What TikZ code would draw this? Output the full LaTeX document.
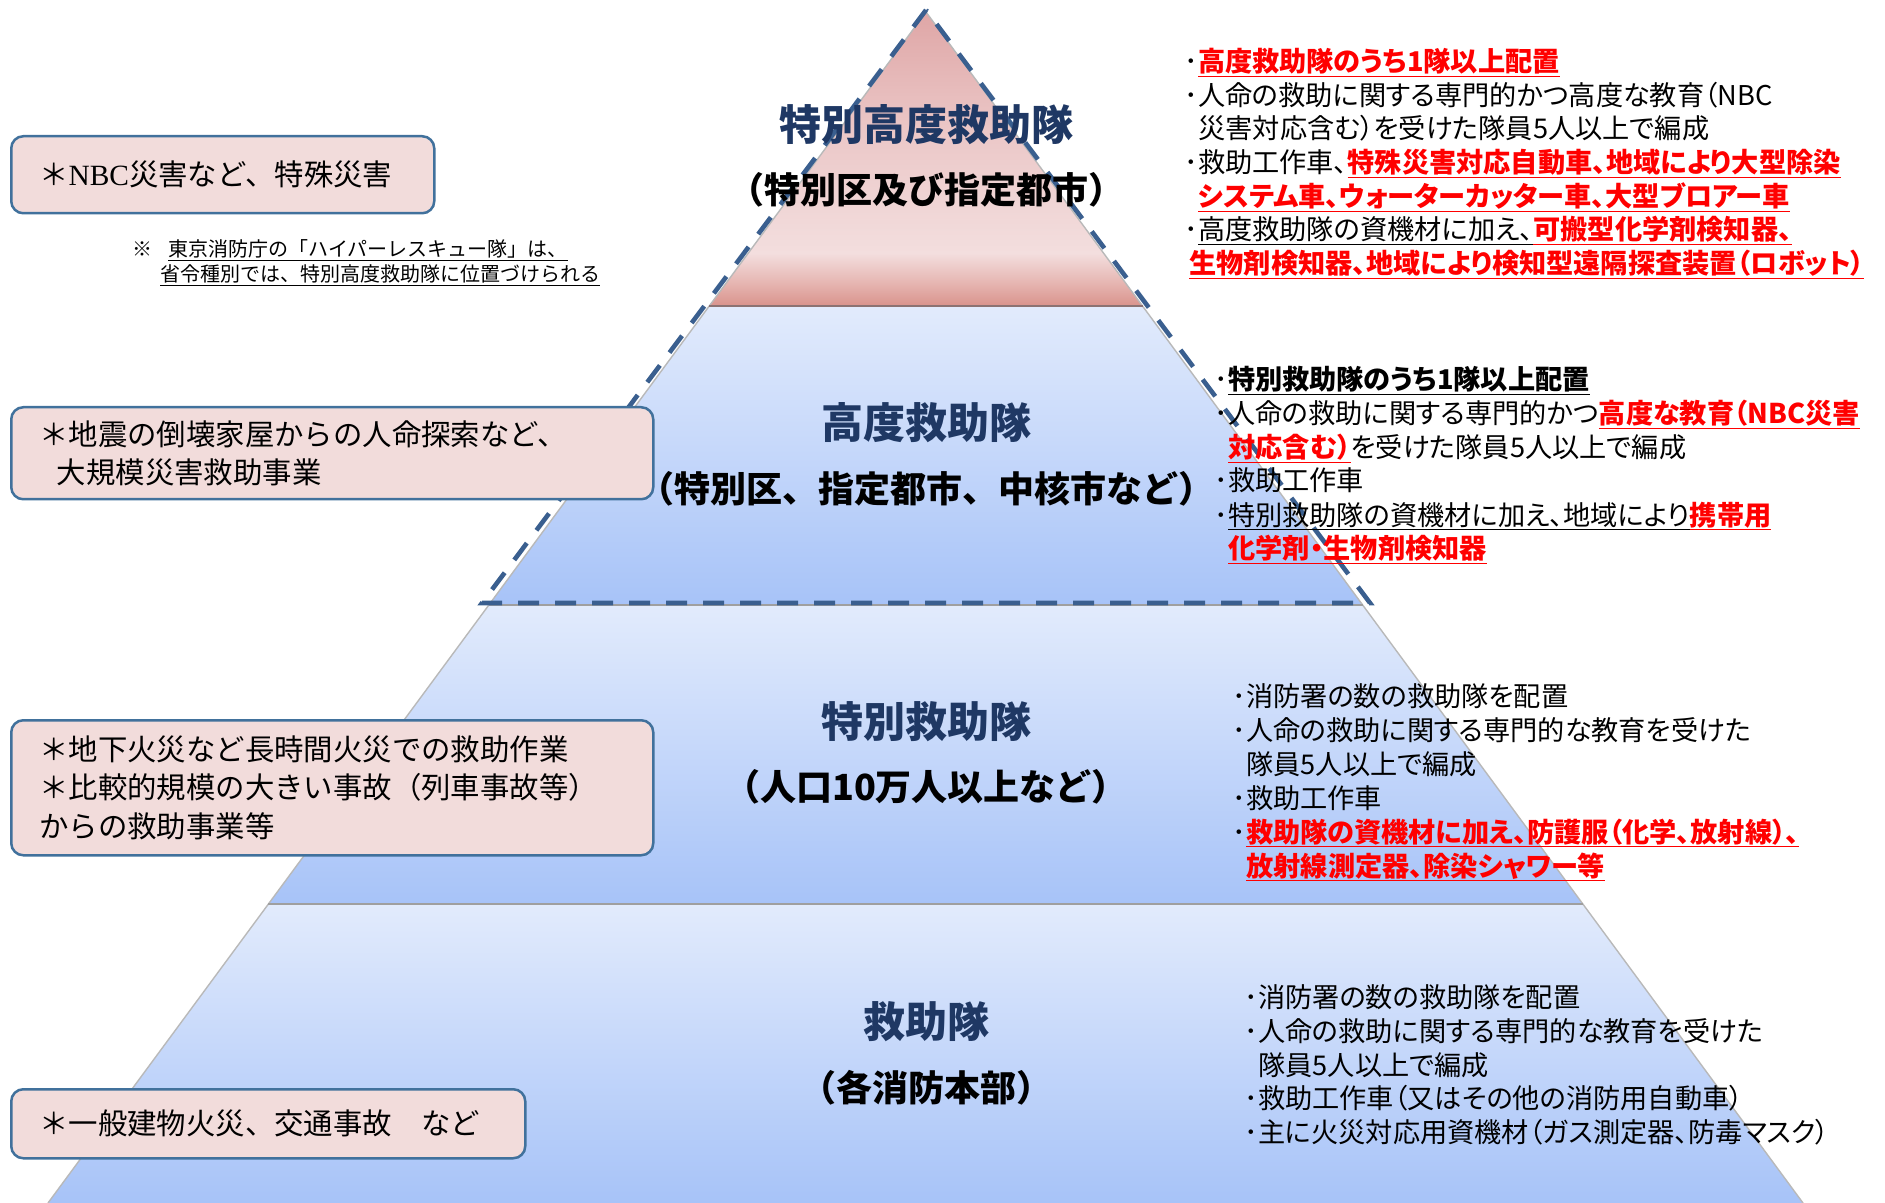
\documentclass[tikz,border=0pt]{standalone}
\usepackage{fontspec}
\setmainfont{Noto Sans CJK JP}
\newfontfamily\propfont{Noto Sans CJK JP}[RawFeature=+palt]
\newfontfamily\latinserif{Liberation Serif}
\usetikzlibrary{calc}

\definecolor{boxfill}{HTML}{F2DCDB}
\definecolor{boxline}{HTML}{41719C}
\definecolor{navy}{HTML}{1F3864}
\definecolor{dashblue}{HTML}{3A5F8F}
\definecolor{pinktop}{HTML}{DFA6A6}
\definecolor{pinkup}{HTML}{EBC7C7}
\definecolor{pinkmid}{HTML}{F3DEDE}
\definecolor{pinklow}{HTML}{E6B6B2}
\definecolor{pinkbot}{HTML}{D9938C}
\definecolor{bluetop}{HTML}{E2EBFC}
\definecolor{bluebot}{HTML}{A7C3F8}
\definecolor{hired}{HTML}{FF0000}

\pgfdeclareverticalshading{pinkfade}{100bp}{color(0bp)=(pinkbot); color(25bp)=(pinkbot);
  color(29bp)=(pinklow); color(34bp)=(pinkmid); color(55bp)=(pinkup);
  color(75bp)=(pinktop); color(100bp)=(pinktop)}

\newcommand\uln[1]{\sbox0{#1}\rlap{\rule[-0.2em]{\wd0}{0.07em}}\usebox0}
\newcommand\hl[1]{\textcolor{hired}{\bfseries\uln{#1}}}
\newcommand\ind{\hspace*{7pt}}

\tikzset{
  tier/.style={font=\fontsize{21pt}{24pt}\selectfont\bfseries, text=navy, inner sep=0pt},
  area/.style={font=\fontsize{18pt}{22pt}\selectfont\bfseries, inner sep=0pt},
  casebox/.style={draw=boxline, fill=boxfill, line width=1.25pt, rounded corners=6pt,
    anchor=north west, align=left, inner xsep=14pt, inner ysep=0pt,
    font=\fontsize{14.7pt}{19.3pt}\selectfont},
  desc/.style={anchor=base west, inner sep=0pt, font=\propfont\fontsize{13.6pt}{16pt}\selectfont},
  remark/.style={anchor=base west, inner sep=0pt, font=\fontsize{10pt}{12pt}\selectfont},
  sepline/.style={draw=gray!75, line width=0.8pt},
  dashframe/.style={draw=dashblue, line width=2.3pt, dash pattern=on 10.5pt off 8pt}
}

\begin{document}
\begin{tikzpicture}[x=0.5pt, y=-0.5pt]
\useasboundingbox (0,0) rectangle (1885,1203);

% pyramid
\coordinate (apex) at (926,12);
\coordinate (bl) at (48,1203);
\coordinate (br) at (1803,1203);
\coordinate (la) at ($(apex)!0.2469!(bl)$);
\coordinate (ra) at ($(apex)!0.2469!(br)$);
\coordinate (lb) at ($(apex)!0.4979!(bl)$);
\coordinate (rb) at ($(apex)!0.4979!(br)$);
\coordinate (lc) at ($(apex)!0.749!(bl)$);
\coordinate (rc) at ($(apex)!0.749!(br)$);

\shade[shading=pinkfade] (apex) -- (ra) -- (la) -- cycle;
\shade[top color=bluetop, bottom color=bluebot] (la) -- (ra) -- (rb) -- (lb) -- cycle;
\shade[top color=bluetop, bottom color=bluebot] (lb) -- (rb) -- (rc) -- (lc) -- cycle;
\shade[top color=bluetop, bottom color=bluebot] (lc) -- (rc) -- (br) -- (bl) -- cycle;
\draw[gray!55, line width=0.7pt] (bl) -- (apex) -- (br);
\draw[sepline, draw=gray!90!red] (la) -- (ra);
\draw[sepline] (lb) -- (rb);
\draw[sepline] (lc) -- (rc);

% dashed frame
\coordinate (dtop) at (926,10);
\coordinate (dleft) at (482,603);
\coordinate (dright) at (1370,603);
\draw[dashframe] (dtop) -- (dleft) -- (dright) -- cycle;

% tier titles
\node[tier] (t1) at (926,125) {特別高度救助隊};
\node[area] (s1) at (926,190) {（特別区及び指定都市）};
\node[tier] (t2) at (926,423) {高度救助隊};
\node[area] (s2) at (926,489) {（特別区、指定都市、中核市など）};
\node[tier] (t3) at (926,722) {特別救助隊};
\node[area] (s3) at (926,787) {（人口10万人以上など）};
\node[tier] (t4) at (926,1022) {救助隊};
\node[area] (s4) at (926,1088) {（各消防本部）};

% case boxes
\node[casebox, text width=183.5pt, minimum height=38.5pt] (nbc) at (10,135)
  {＊{\latinserif NBC}災害など、特殊災害};
\node[casebox, text width=293pt, minimum height=46pt] (quake) at (10,406)
  {＊地震の倒壊家屋からの人命探索など、\\\hspace*{0.6em}大規模災害救助事業};
\node[casebox, text width=293pt, minimum height=67.5pt] (fire) at (10,719)
  {＊地下火災など長時間火災での救助作業\\＊比較的規模の大きい事故（列車事故等）\\からの救助事業等};
\node[casebox, text width=229pt, minimum height=34.5pt] (common) at (10,1088)
  {＊一般建物火災、交通事故\hspace{1em}など};

% remark
\node[remark] (rm1) at (132,257) {※\hspace{0.8em}\uln{東京消防庁の「ハイパーレスキュー隊」は、}};
\node[remark] (rm2) at (160,282) {\uln{省令種別では、特別高度救助隊に位置づけられる}};

% descriptions
\node[desc] (g1a) at (1184,72) {･\hl{高度救助隊のうち1隊以上配置}};
\node[desc] (g1b) at (1184,106) {･人命の救助に関する専門的かつ高度な教育（NBC};
\node[desc] (g1c) at (1184,139) {\ind 災害対応含む）を受けた隊員5人以上で編成};
\node[desc] (g1d) at (1184,173) {･救助工作車、\hl{特殊災害対応自動車、地域により大型除染}};
\node[desc] (g1e) at (1184,207) {\ind\hl{システム車、ウォーターカッター車、大型ブロアー車}};
\node[desc] (g1f) at (1184,240) {･\uln{高度救助隊の資機材に加え、}\hl{可搬型化学剤検知器、}};
\node[desc] (g1g) at (1184,274) {\hspace*{2.5pt}\hl{生物剤検知器、地域により検知型遠隔探査装置（ロボット）}};

\node[desc] (g2a) at (1214,390) {･{\bfseries\uln{特別救助隊のうち1隊以上配置}}};
\node[desc] (g2b) at (1214,424) {･人命の救助に関する専門的かつ\hl{高度な教育（NBC災害}};
\node[desc] (g2c) at (1214,458) {\ind\hl{対応含む）}を受けた隊員5人以上で編成};
\node[desc] (g2d) at (1214,491) {･救助工作車};
\node[desc] (g2e) at (1214,525) {･\uln{特別救助隊の資機材に加え、地域により}\hl{携帯用}};
\node[desc] (g2f) at (1214,559) {\ind\hl{化学剤・生物剤検知器}};

\node[desc] (g3a) at (1232,706) {･消防署の数の救助隊を配置};
\node[desc] (g3b) at (1232,740) {･人命の救助に関する専門的な教育を受けた};
\node[desc] (g3c) at (1232,774) {\ind 隊員5人以上で編成};
\node[desc] (g3d) at (1232,808) {･救助工作車};
\node[desc] (g3e) at (1232,842) {･\hl{救助隊の資機材に加え、防護服（化学、放射線）、}};
\node[desc] (g3f) at (1232,876) {\ind\hl{放射線測定器、除染シャワー等}};

\node[desc] (g4a) at (1244,1007) {･消防署の数の救助隊を配置};
\node[desc] (g4b) at (1244,1041) {･人命の救助に関する専門的な教育を受けた};
\node[desc] (g4c) at (1244,1075) {\ind 隊員5人以上で編成};
\node[desc] (g4d) at (1244,1108) {･救助工作車（又はその他の消防用自動車）};
\node[desc] (g4e) at (1244,1142) {･主に火災対応用資機材（ガス測定器、防毒マスク）};
\end{tikzpicture}
\end{document}
